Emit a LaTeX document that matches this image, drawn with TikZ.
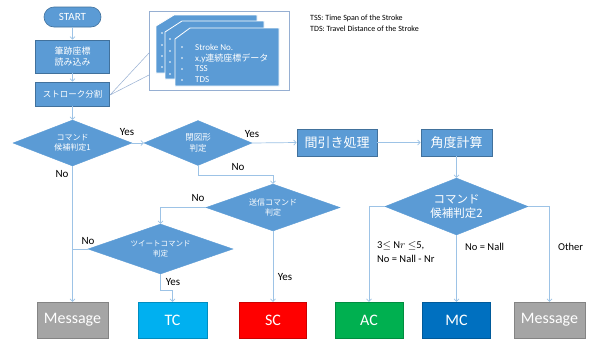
\documentclass[tikz,border=0pt]{standalone}
\usepackage{fontspec}
\setmainfont{Carlito}
\newfontfamily\jp{Noto Sans CJK JP}
\usetikzlibrary{shapes.geometric,arrows.meta}
\definecolor{fillblue}{RGB}{91,155,213}
\definecolor{edgeblue}{RGB}{65,113,156}
\definecolor{linkblue}{RGB}{157,195,230}
\definecolor{framecol}{RGB}{150,175,210}
\definecolor{msggray}{RGB}{165,165,165}
\definecolor{tccol}{RGB}{0,176,240}
\definecolor{sccol}{RGB}{255,0,0}
\definecolor{accol}{RGB}{0,176,80}
\definecolor{mccol}{RGB}{0,112,192}
\tikzset{
  bluebox/.style={draw=edgeblue, fill=fillblue, text=white, inner sep=0pt, line width=0.6pt, align=center},
  dia/.style={diamond, draw=fillblue, fill=fillblue, text=white, inner sep=0pt, align=center, aspect=2.5},
  link/.style={draw=linkblue, line width=0.7pt, -{Straight Barb[length=2.5pt,width=5pt]}},
  plainlink/.style={draw=linkblue, line width=0.7pt},
  lbl/.style={inner sep=0pt, font=\fontsize{11}{12}\selectfont},
  result/.style={draw=#1!80!black, fill=#1, text=white, inner sep=0pt, minimum height=36pt, line width=0.5pt, font=\fontsize{16}{17}\selectfont},
  card/.style={fill=fillblue, draw=white, line width=0.8pt},
  dot/.style={fill=white, draw=none},
  cardtext/.style={anchor=west, inner sep=0pt, text=white, font=\fontsize{9}{10}\selectfont}
}
\begin{document}
\begin{tikzpicture}[x=1pt,y=-1pt]
\useasboundingbox (0,0) rectangle (592,338);
\fill[white] (0,0) rectangle (592,338);

% left column
\node[bluebox, rounded corners=10pt, minimum width=57pt, minimum height=20pt, font=\fontsize{11}{12}\selectfont] (start) at (72.5,17) {START};
\node[bluebox, minimum width=74pt, minimum height=33pt, font=\jp\fontsize{9}{11}\selectfont] (read) at (72.5,56.5) {筆跡座標\\読み込み};
\node[bluebox, minimum width=74pt, minimum height=24pt, font=\jp\fontsize{8.5}{10}\selectfont] (split) at (72.5,94) {ストローク分割};

% callout
\coordinate (ca) at (149,53);
\coordinate (cb) at (149,75);
\coordinate (cs) at (110,95);
\draw[framecol, line width=0.5pt] (cs) -- (ca) (cs) -- (cb);
\node[draw=framecol, fill=white, line width=0.7pt, minimum width=140pt, minimum height=79pt, inner sep=0pt] (frame) at (219,50.5) {};
\path[card] (156,26) -- (174,15) -- (257,15) -- (257,73) -- (156,73) -- cycle;
\path[card] (165,32) -- (182,21) -- (264,21) -- (264,79) -- (165,79) -- cycle;
\path[card] (175,39) -- (190,28) -- (279,28) -- (279,86) -- (175,86) -- cycle;
\foreach \y in {33,45,56,67} \fill[dot] (162,\y) circle (0.8pt);
\foreach \y in {39,51,62,74} \fill[dot] (170,\y) circle (0.8pt);
\foreach \y in {47,58,69,80} \fill[dot] (182,\y) circle (0.8pt);
\node[cardtext] (t1) at (195,47) {Stroke No.};
\node[cardtext] (t2) at (195,58) {x,y{\jp 連続座標データ}};
\node[cardtext] (t3) at (195,69) {TSS};
\node[cardtext] (t4) at (195,80) {TDS};

\node[anchor=north west, inner sep=0pt, align=left, font=\fontsize{8}{11}\selectfont] (legend) at (310,15) {TSS: Time Span of the Stroke\\TDS: Travel Distance of the Stroke};

% diamonds and boxes
\node[dia, minimum width=119pt, minimum height=46pt, font=\jp\fontsize{8}{10}\selectfont] (d1) at (72.5,143) {コマンド\\候補判定1};
\node[dia, minimum width=108pt, minimum height=45pt, font=\jp\fontsize{8.5}{11}\selectfont] (d2) at (198,143) {閉図形\\判定};
\node[bluebox, minimum width=80pt, minimum height=27pt, font=\jp\fontsize{13}{14}\selectfont] (thin) at (337,142.5) {間引き処理};
\node[bluebox, minimum width=71pt, minimum height=27pt, font=\jp\fontsize{13}{14}\selectfont] (angle) at (456.5,142.5) {角度計算};
\node[dia, minimum width=143pt, minimum height=57pt, font=\jp\fontsize{11.5}{14}\selectfont] (d3) at (456.5,206.5) {コマンド\\候補判定2};
\node[dia, minimum width=134pt, minimum height=47pt, font=\jp\fontsize{8}{10.5}\selectfont] (d4) at (273,207.5) {送信コマンド\\判定};
\node[dia, minimum width=145pt, minimum height=50pt, font=\jp\fontsize{7.5}{10}\selectfont] (d5) at (160.5,249) {ツイートコマンド\\判定};

% results
\node[result=msggray, minimum width=71pt] (m1) at (72.5,320) {Message};
\node[result=tccol, minimum width=69pt] (tc) at (172.5,320) {TC};
\node[result=sccol, minimum width=67pt] (sc) at (273,320) {SC};
\node[result=accol, minimum width=68pt] (ac) at (369,320) {AC};
\node[result=mccol, minimum width=68pt] (mc) at (456.5,320) {MC};
\node[result=msggray, minimum width=71pt] (m2) at (549.5,320) {Message};

% connectors
\draw[link] (start) -- (read);
\draw[link] (read) -- (split);
\draw[link] (split) -- (d1);
\draw[link] (d1.east) -- (d2.west);
\draw[link] (d2.east) -- (thin.west);
\draw[link] (thin.east) -- (angle.west);
\draw[link] (angle.south) -- (d3.north);
\draw[link] (d1.south) -- (m1.north);
\draw[link] (d2.south) -- ++(0,10) -| (d4.north);
\draw[link] (d4.west) -| (d5.north);
\draw[link] (d4.south) -- (sc.north);
\draw[plainlink] (d5.west) -- (d5.west -| d1.south);
\draw[link] (d5.south) -- ++(0,16) -| (tc.north);
\draw[link] (d3.west) -| (ac.north);
\draw[link] (d3.south) -- (mc.north);
\draw[link] (d3.east) -| (m2.north);

% labels
\node[lbl] (l1) at (127,132) {Yes};
\node[lbl] (l2) at (252,134) {Yes};
\node[lbl] (l3) at (62,174) {No};
\node[lbl] (l4) at (238,167) {No};
\node[lbl] (l5) at (198,198) {No};
\node[lbl] (l6) at (88,241) {No};
\node[lbl] (l7) at (173,282) {Yes};
\node[lbl] (l8) at (285,277) {Yes};
\node[lbl, anchor=west, align=left, font=\fontsize{10.5}{14}\selectfont] (l9) at (377,252) {3$\leq$ N$r$ $\leq$5,\\No = Nall - Nr};
\node[lbl, anchor=west, font=\fontsize{10.5}{12}\selectfont] (l10) at (465,247) {No = Nall};
\node[lbl, anchor=west, font=\fontsize{10.5}{12}\selectfont] (l11) at (558,247) {Other};
\end{tikzpicture}
\end{document}
